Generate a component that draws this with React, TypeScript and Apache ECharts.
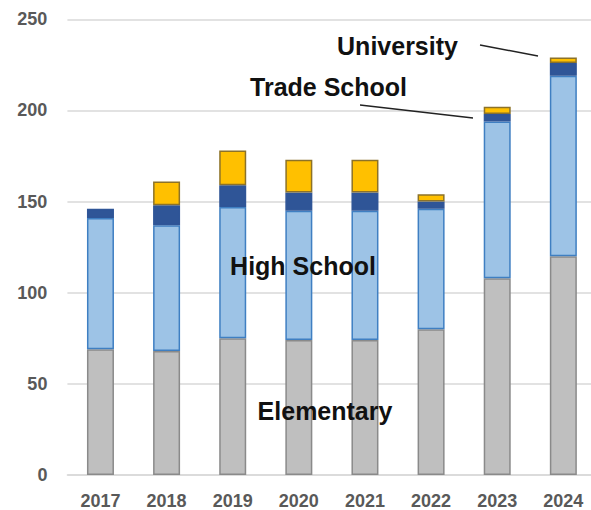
import React, { useEffect, useRef } from "react";
import * as echarts from "echarts";

const years = ["2017", "2018", "2019", "2020", "2021", "2022", "2023", "2024"];
const elementary = [69, 68, 75, 74, 74, 80, 108, 120];
const highSchool = [72, 69, 72, 71, 71, 66, 86, 99];
const tradeSchool = [5, 11, 12, 10, 10, 4, 4, 7];
const university = [null, 13, 19, 18, 18, 4, 4, 3];
const yTicks = { min: 0, max: 250, interval: 50 };

const FONT = "'Liberation Sans', Arial, sans-serif";

export default function App() {
  const ref = useRef<HTMLDivElement>(null);
  useEffect(() => {
    if (!ref.current) return;
    const chart = echarts.init(ref.current, undefined, { renderer: "svg" });
    const seg = (name: string, data: (number | null)[], color: string, border: string) => ({
      name,
      type: "bar",
      stack: "total",
      data,
      barWidth: 27,
      itemStyle: { color, borderColor: border, borderWidth: 1.5 },
    });
    const labelStyle = {
      fontFamily: FONT,
      fontSize: 25,
      fontWeight: "bold",
      fill: "#111",
      align: "center",
      verticalAlign: "middle",
    };
    chart.setOption({
      animation: false,
      textStyle: { fontFamily: FONT },
      grid: { left: 67.4, right: 3.6, top: 19.3, bottom: 34.3, containLabel: false },
      xAxis: {
        type: "category",
        data: years,
        axisLine: { lineStyle: { color: "#d9d9d9", width: 1.5 } },
        axisTick: { show: false },
        axisLabel: {
          color: "#595959",
          fontWeight: "bold",
          fontSize: 18,
          fontFamily: FONT,
          margin: 17,
        },
      },
      yAxis: {
        type: "value",
        min: yTicks.min,
        max: yTicks.max,
        interval: yTicks.interval,
        axisLine: { show: false },
        axisTick: { show: false },
        splitLine: { lineStyle: { color: "#d9d9d9", width: 1.5 } },
        axisLabel: {
          color: "#595959",
          fontWeight: "bold",
          fontSize: 18,
          fontFamily: FONT,
          margin: 20,
        },
      },
      series: [
        seg("Elementary", elementary, "#bfbfbf", "#8a8a8a"),
        seg("High School", highSchool, "#9dc3e6", "#3f7fc2"),
        seg("Trade School", tradeSchool, "#2f5597", "#2f5597"),
        seg("University", university, "#ffc000", "#8c7228"),
      ],
      graphic: [
        { type: "text", z: 100, x: 397.5, y: 46, style: { ...labelStyle, text: "University" } },
        { type: "text", z: 100, x: 328.5, y: 87, style: { ...labelStyle, text: "Trade School" } },
        { type: "text", z: 100, x: 303, y: 266, style: { ...labelStyle, text: "High School" } },
        { type: "text", z: 100, x: 325, y: 411, style: { ...labelStyle, text: "Elementary" } },
        {
          type: "line",
          z: 100,
          shape: { x1: 480, y1: 45, x2: 538, y2: 56 },
          style: { stroke: "#222", lineWidth: 1.5 },
        },
        {
          type: "line",
          z: 100,
          shape: { x1: 360, y1: 105, x2: 473, y2: 118 },
          style: { stroke: "#222", lineWidth: 1.5 },
        },
      ],
    });
    return () => chart.dispose();
  }, []);
  return (
    <div
      style={{
        position: "fixed",
        left: 0,
        top: 0,
        width: 591,
        height: 510,
        overflow: "hidden",
        background: "#fff",
      }}
    >
      <div ref={ref} style={{ width: 600, height: 510 }} />
    </div>
  );
}
